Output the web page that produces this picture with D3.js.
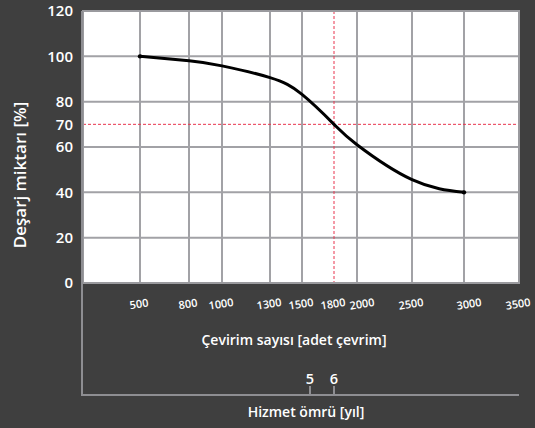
<!DOCTYPE html>
<html>
<head>
<meta charset="utf-8">
<script src="https://cdn.jsdelivr.net/npm/d3@7"></script>
<style>
  body { margin: 0; background: #3f3f3f; }
  svg { display: block; font-family: "Open Sans", sans-serif; }
</style>
</head>
<body>
<svg></svg>
<script>
// Deşarj miktarı vs çevirim sayısı
// ticks
const xTicks = [500, 800, 1000, 1300, 1500, 1800, 2000, 2500, 3000, 3500]
const yTicks = [0, 20, 40, 60, 70, 80, 100, 120]
const yGrid = [0, 20, 40, 60, 80, 100, 120]
const markX = 1800
const markY = 70

// curve
const cycles = [500, 800, 1000, 1300, 1500, 1800, 2000, 2500, 3000]
const discharge = [100, 98.0, 95.8, 90.6, 83.2, 70, 61.0, 45.6, 40]

// second axis (years)
const yearTicks = [5, 6]
const yearCycles = [1575, 1800]

let svgWidth = 535
let svgHeight = 428
let margin = { left: 83, top: 11, right: 16, bottom: 145 }
let chartWidth = svgWidth - margin.left - margin.right
let chartHeight = svgHeight - margin.top - margin.bottom

const svg = d3.select("svg")
    .attr("width", svgWidth)
    .attr("height", svgHeight)

// uneven x axis of the original: piecewise linear
var xBreaks = [0].concat(xTicks)
var xFrac = [0, 57, 106, 139, 187, 219, 251, 274, 329, 381, 436].map(d => d / 436)
var x = d3.scaleLinear()
    .domain(xBreaks)
    .range(xFrac.map(f => f * chartWidth))

var y = d3.scaleLinear()
    .domain([0, 120])
    .range([chartHeight, 0])

const g = svg.append("g")
    .attr("transform", `translate(${margin.left}, ${margin.top})`)

g.append("rect")
    .attr("width", chartWidth)
    .attr("height", chartHeight)
    .attr("fill", "white")

// grid
g.selectAll(".hgrid")
    .data(yGrid)
    .enter()
    .append("line")
    .attr("x1", 0).attr("x2", chartWidth)
    .attr("y1", d => y(d)).attr("y2", d => y(d))
    .attr("stroke", "#a2a2a6")
    .attr("stroke-width", 2)

g.selectAll(".vgrid")
    .data(xTicks.filter(d => d != markX))
    .enter()
    .append("line")
    .attr("x1", d => x(d)).attr("x2", d => x(d))
    .attr("y1", 0).attr("y2", chartHeight)
    .attr("stroke", "#a2a2a6")
    .attr("stroke-width", 2)

// red dashed markers
g.append("line")
    .attr("x1", x(markX)).attr("x2", x(markX))
    .attr("y1", 0).attr("y2", chartHeight)
    .attr("stroke", "#e8344e")
    .attr("stroke-width", 1)
    .attr("stroke-dasharray", "3,2")

g.append("line")
    .attr("x1", 0).attr("x2", chartWidth)
    .attr("y1", y(markY)).attr("y2", y(markY))
    .attr("stroke", "#e8344e")
    .attr("stroke-width", 1)
    .attr("stroke-dasharray", "3,2")

// frame
g.append("rect")
    .attr("width", chartWidth)
    .attr("height", chartHeight)
    .attr("fill", "none")
    .attr("stroke", "#9a9a9e")
    .attr("stroke-width", 2)

// left line runs down to the years axis
var yearAxisY = 395 - margin.top
g.append("line")
    .attr("x1", -1).attr("x2", -1)
    .attr("y1", 0).attr("y2", yearAxisY)
    .attr("stroke", "#8e8e92")
    .attr("stroke-width", 2)

// curve
var data = cycles.map((c, i) => ({ c: c, v: discharge[i] }))
g.append("path")
    .datum(data)
    .attr("fill", "none")
    .attr("stroke", "black")
    .attr("stroke-width", 3)
    .attr("d", d3.line()
        .curve(d3.curveNatural)
        .x(d => x(d.c))
        .y(d => y(d.v)))

g.selectAll(".end")
    .data([data[0], data[data.length - 1]])
    .enter()
    .append("circle")
    .attr("cx", d => x(d.c))
    .attr("cy", d => y(d.v))
    .attr("r", 2.2)
    .attr("fill", "black")

// y labels
g.selectAll(".ylab")
    .data(yTicks)
    .enter()
    .append("text")
    .attr("x", -10)
    .attr("y", d => y(d))
    .attr("dy", "0.35em")
    .attr("text-anchor", "end")
    .attr("fill", "white")
    .style("font-size", "15px")
    .style("font-weight", 600)
    .text(d => d)

// x labels, slightly tilted (a few sit a bit right of their line)
var nudge = d => (d == 2000 || d == 3000) ? 5 : -1
g.selectAll(".xlab")
    .data(xTicks)
    .enter()
    .append("text")
    .attr("transform", d => `translate(${x(d) + nudge(d)}, ${chartHeight + 21}) rotate(-9)`)
    .attr("text-anchor", "middle")
    .attr("dy", "0.35em")
    .attr("fill", "white")
    .style("font-size", "11px")
    .style("font-weight", 600)
    .text(d => d)

// axis titles
svg.append("text")
    .attr("transform", `translate(20, 175) rotate(-90)`)
    .attr("text-anchor", "middle")
    .attr("dy", "0.35em")
    .attr("fill", "white")
    .style("font-size", "17px")
    .style("font-weight", 600)
    .text("Deşarj miktarı [%]")

g.append("text")
    .attr("x", chartWidth / 2 - 7)
    .attr("y", 340 - margin.top)
    .attr("dy", "0.35em")
    .attr("text-anchor", "middle")
    .attr("fill", "white")
    .style("font-size", "14px")
    .style("font-weight", 600)
    .text("Çevirim sayısı [adet çevrim]")

// years axis
g.append("line")
    .attr("x1", -2).attr("x2", chartWidth)
    .attr("y1", yearAxisY).attr("y2", yearAxisY)
    .attr("stroke", "#8e8e92")
    .attr("stroke-width", 2)

var years = yearTicks.map((t, i) => ({ t: t, c: yearCycles[i] }))
g.selectAll(".ytick")
    .data(years)
    .enter()
    .append("line")
    .attr("x1", d => x(d.c)).attr("x2", d => x(d.c))
    .attr("y1", yearAxisY - 9).attr("y2", yearAxisY)
    .attr("stroke", "#8e8e92")
    .attr("stroke-width", 2)

g.selectAll(".ylabel2")
    .data(years)
    .enter()
    .append("text")
    .attr("x", d => x(d.c))
    .attr("y", yearAxisY - 16)
    .attr("dy", "0.35em")
    .attr("text-anchor", "middle")
    .attr("fill", "white")
    .style("font-size", "14.5px")
    .style("font-weight", 600)
    .text(d => d.t)

g.append("text")
    .attr("x", chartWidth / 2 + 5)
    .attr("y", 412 - margin.top)
    .attr("dy", "0.35em")
    .attr("text-anchor", "middle")
    .attr("fill", "white")
    .style("font-size", "14px")
    .style("font-weight", 600)
    .text("Hizmet ömrü [yıl]")
</script>
</body>
</html>
